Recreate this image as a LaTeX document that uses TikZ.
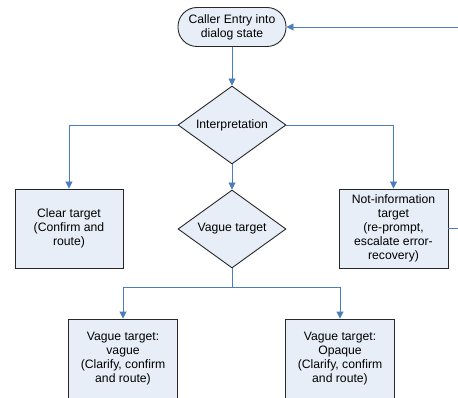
\documentclass[tikz,border=0pt]{standalone}
\usepackage{fontspec}
\setmainfont{Liberation Sans}
\usetikzlibrary{arrows.meta,shapes.geometric}
\definecolor{lineblue}{RGB}{74,126,187}
\definecolor{boxfill}{RGB}{232,238,247}
\definecolor{boxline}{RGB}{40,40,40}
\tikzset{
  every node/.style={font=\fontsize{12.2}{14}\selectfont, align=center, inner sep=0pt},
  boxstyle/.style={draw=boxline, fill=boxfill, line width=0.9pt},
  rectbox/.style={boxstyle, rectangle, minimum width=108pt, minimum height=79pt},
  termbox/.style={boxstyle, rectangle, rounded corners=19pt, minimum width=108pt, minimum height=39pt},
  decbox/.style={boxstyle, diamond, aspect=1.385, minimum width=108pt, minimum height=78pt},
  conn/.style={draw=lineblue, line width=0.9pt},
  arr/.style={conn, -{Triangle[length=7pt,width=7pt]}},
}
\begin{document}
\begin{tikzpicture}[x=1pt,y=-1pt]
\useasboundingbox (0,0) rectangle (458,398);
\node[termbox] (start) at (232,27) {Caller Entry into\\dialog state};
\node[decbox] (interp) at (232,125) {Interpretation};
\node[decbox] (vague) at (232,229) {Vague target};
\node[rectbox] (clear) at (69,228.5) {Clear target\\(Confirm and\\route)};
\node[rectbox, minimum width=109pt] (notinfo) at (393.5,228.5) {Not-information\\target\\(re-prompt,\\escalate error-\\recovery)};
\node[rectbox, minimum width=109pt] (vv) at (123,358.5) {Vague target:\\vague\\(Clarify, confirm\\and route)};
\node[rectbox, minimum width=109pt] (vo) at (340,358.5) {Vague target:\\Opaque\\(Clarify, confirm\\and route)};
\coordinate (split) at (232,287);
\coordinate (loopA) at (460,228.5);
\coordinate (loopB) at (460,27);
\draw[arr] (start.south) -- (interp.north);
\draw[arr] (interp.west) -| (clear.north);
\draw[arr] (interp.east) -| (notinfo.north);
\draw[arr] (interp.south) -- (vague.north);
\draw[conn] (vague.south) -- (split);
\draw[arr] (split) -| (vv.north);
\draw[arr] (split) -| (vo.north);
\draw[conn] (notinfo.east) -- (loopA);
\draw[arr] (loopB) -- (start.east);
\end{tikzpicture}
\end{document}
